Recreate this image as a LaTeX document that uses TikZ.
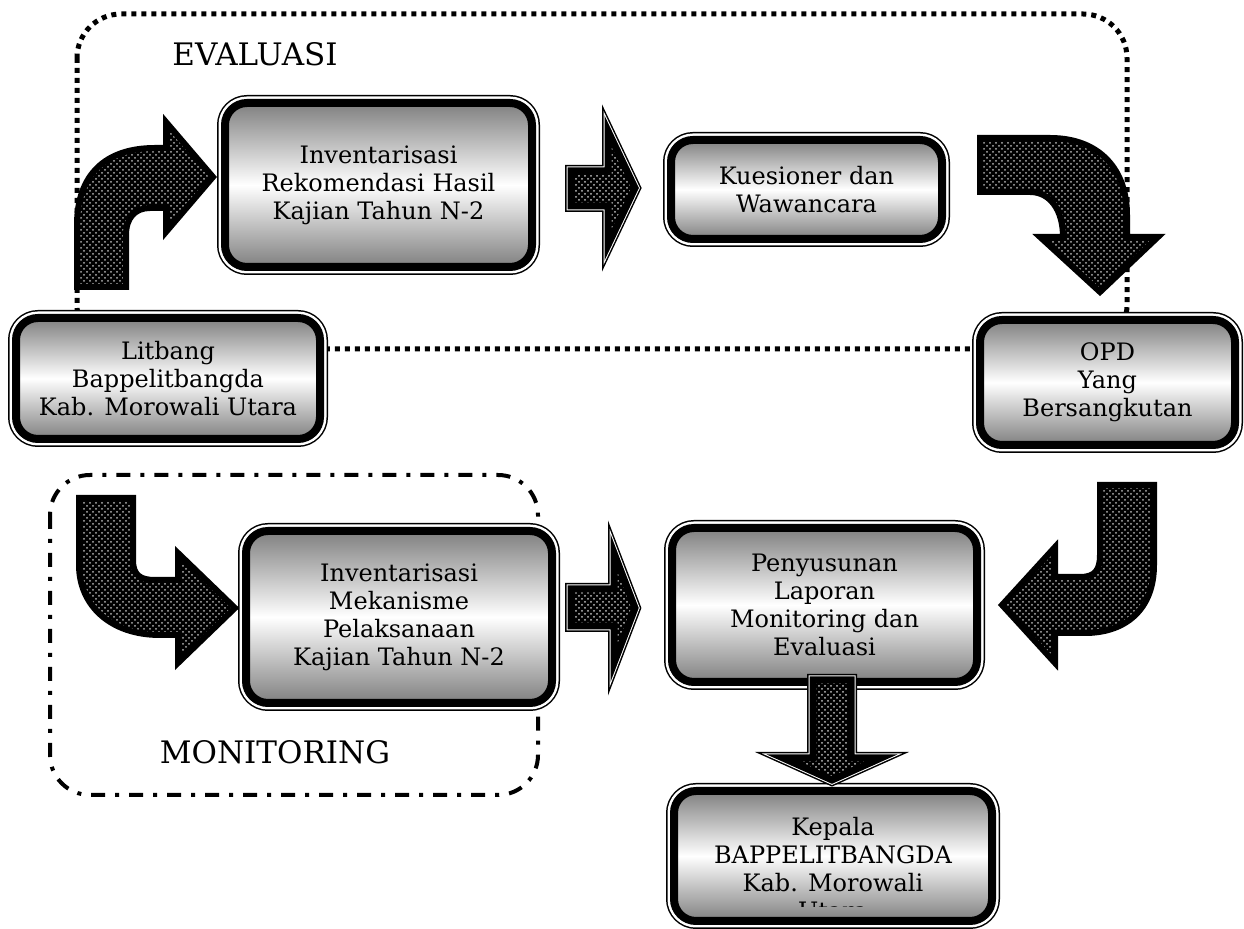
\documentclass[tikz,border=0pt]{standalone}
\usepackage{fontspec}
\setmainfont{DejaVu Serif}
\usetikzlibrary{patterns}
\tikzset{
  stage/.style={rectangle,rounded corners=11pt,draw=black,line width=4pt,
    top color=gray,bottom color=gray,middle color=white,
    preaction={draw=black,line width=8pt},
    preaction={draw=white,line width=6.5pt},
    align=center,inner sep=0pt,font=\fontsize{12}{14}\selectfont},
  areatitle/.style={inner sep=0pt,font=\fontsize{15.5}{17}\selectfont},
  evaldots/.style={line width=2.5pt,dash pattern=on 2.5pt off 2.5pt},
  mondash/.style={line width=2pt,dash pattern=on 7pt off 5pt on 2pt off 5pt},
  bentarrow/.style={preaction={fill=black},pattern=crosshatch dots,
    pattern color=gray!60,draw=black,line width=3pt,line join=miter},
  blockarrow/.style={preaction={draw=black,line width=6pt,line join=miter},
    preaction={draw=white,line width=4.5pt,line join=miter},
    preaction={fill=black},pattern=crosshatch dots,
    pattern color=gray!50,draw=black,line width=3.5pt,line join=miter}
}
\begin{document}
\begin{tikzpicture}[x=0.5pt,y=-0.5pt]
\useasboundingbox (0,0) rectangle (1244,929);
\draw[evaldots,rounded corners=22pt] (77,14) rectangle (1127,349);
\draw[mondash,rounded corners=20pt] (50,475) rectangle (538,795);
\node[areatitle] (evaluasi) at (255,54) {EVALUASI};
\node[areatitle] (monitoring) at (275,752) {MONITORING};
\node[stage,minimum width=153.5pt,minimum height=82pt] (rekomendasi) at (378.5,185) {Inventarisasi\\Rekomendasi Hasil\\Kajian Tahun N-2};
\node[stage,minimum width=135.5pt,minimum height=49.5pt] (kuesioner) at (806.5,189.5) {Kuesioner dan\\Wawancara};
\node[stage,minimum width=152pt,minimum height=60.5pt] (litbang) at (168,378.5) {Litbang\\Bappelitbangda\\Kab. Morowali Utara};
\node[stage,minimum width=127.5pt,minimum height=62.5pt] (opd) at (1107.5,382.5) {OPD\\Yang\\Bersangkutan};
\node[stage,minimum width=153pt,minimum height=86pt] (mekanisme) at (399,617) {Inventarisasi\\Mekanisme\\Pelaksanaan\\Kajian Tahun N-2};
\node[stage,minimum width=152.5pt,minimum height=77pt] (laporan) at (824.5,605) {Penyusunan\\Laporan\\Monitoring dan\\Evaluasi};
\node[stage,minimum width=159pt,minimum height=65pt] (kepala) at (833,856) {};
\begin{scope}
\clip (666,790) rectangle (1000,907);
\node[anchor=north,align=center,inner sep=0pt,font=\fontsize{12}{14}\selectfont] (kepalateks) at (833,817) {Kepala\\BAPPELITBANGDA\\Kab. Morowali\\Utara};
\end{scope}
\path[bentarrow] (77,287) -- (77,225) .. controls (77,175) and (105,148) .. (155,148) -- (166,148) -- (166,122) -- (213,177) -- (166,232) -- (166,208) -- (150,208) .. controls (135,208) and (126,218) .. (126,235) -- (126,287) -- cycle;
\path[bentarrow] (980,138) -- (1050,138) .. controls (1100,138) and (1127,170) .. (1127,215) -- (1127,237) -- (1158,237) -- (1100,292) -- (1040,237) -- (1063,237) .. controls (1063,210) and (1050,192) .. (1030,192) -- (980,192) -- cycle;
\path[bentarrow] (79,498) -- (133,498) -- (133,560) .. controls (133,575) and (140,580) .. (155,580) -- (178,580) -- (178,553) -- (235,608) -- (178,663) -- (178,635) -- (160,635) .. controls (110,635) and (79,605) .. (79,565) -- cycle;
\path[bentarrow] (1100,485) -- (1154,485) -- (1154,565) .. controls (1154,610) and (1125,633) .. (1085,633) -- (1055,633) -- (1055,663) -- (1002,605) -- (1055,547) -- (1055,577) -- (1080,577) .. controls (1095,577) and (1100,570) .. (1100,555) -- cycle;
\path[blockarrow] (571,171) -- (608,171) -- (608,131) -- (635,188) -- (608,245) -- (608,206) -- (571,206) -- cycle;
\path[blockarrow] (571,589) -- (614,589) -- (614,553) -- (635,608) -- (614,663) -- (614,626) -- (571,626) -- cycle;
\path[blockarrow] (813,680) -- (851,680) -- (851,758) -- (881,758) -- (832,780) -- (783,758) -- (813,758) -- cycle;
\end{tikzpicture}
\end{document}
